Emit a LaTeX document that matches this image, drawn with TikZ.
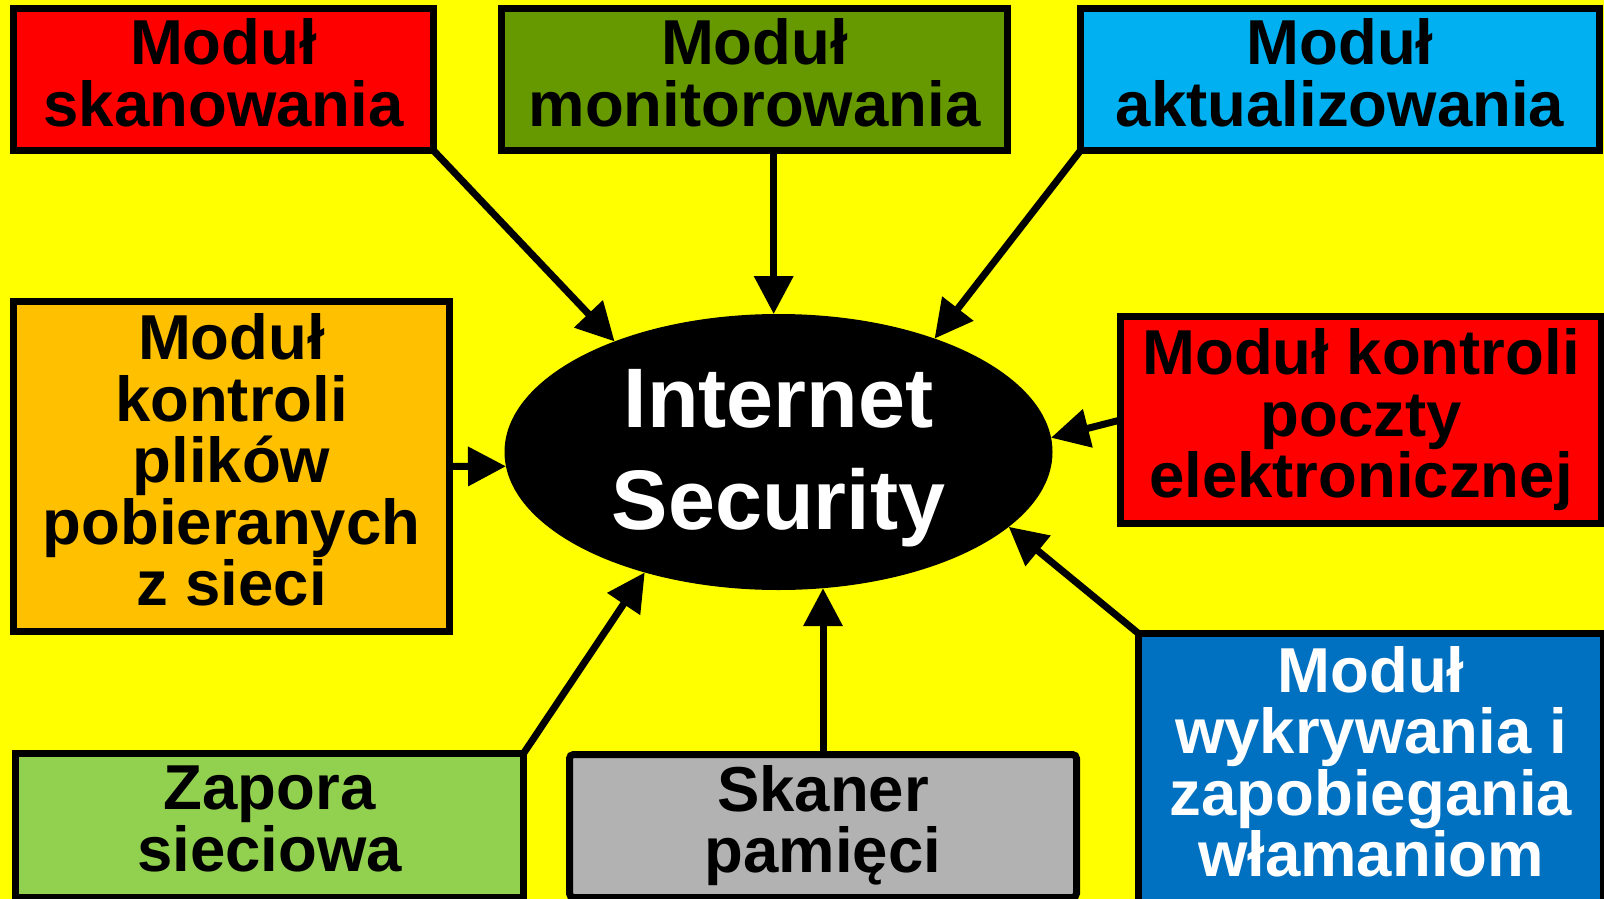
\documentclass[tikz,border=0pt]{standalone}
\usepackage{fontspec}
\setmainfont{Liberation Sans}
\usetikzlibrary{arrows.meta,shapes.geometric}

\definecolor{bgyellow}{HTML}{FFFF00}
\definecolor{cred}{HTML}{FF0000}
\definecolor{cgreen}{HTML}{669900}
\definecolor{ccyan}{HTML}{00B0F0}
\definecolor{corange}{HTML}{FFC000}
\definecolor{cblue}{HTML}{0070C0}
\definecolor{clightgreen}{HTML}{92D050}
\definecolor{cgrey}{HTML}{B2B2B2}

% fixed depth for the last line of each box label
\newcommand{\lastdp}{\rule[-14pt]{0pt}{14pt}}

\begin{document}
\begin{tikzpicture}[x=1pt,y=-1pt,
  box/.style={draw=black, line width=7pt, rectangle, inner sep=0pt, outer sep=0pt,
    align=center, font=\fontsize{63.5}{61.5}\selectfont\bfseries},
  hub/.style={ellipse, fill=black, inner sep=0pt, outer sep=0pt, text=white,
    align=center, font=\fontsize{84.5}{102}\selectfont\bfseries},
  arr/.style={draw=black, line width=7pt, -{Triangle[length=38pt,width=38pt]}},
]
\useasboundingbox (0,0) rectangle (1604,899);
\clip (0,0) rectangle (1604,899);
\fill[bgyellow] (0,0) rectangle (1604,899);

% modules
\node[box, fill=cred, minimum width=420pt, minimum height=142pt] (skan) at (223.5,79.5)
  {Moduł\\skanowania\lastdp};
\node[box, fill=cgreen, minimum width=506pt, minimum height=142pt] (mon) at (754.5,79.5)
  {Moduł\\monitorowania\lastdp};
\node[box, fill=ccyan, minimum width=519pt, minimum height=142pt] (akt) at (1340,79.5)
  {Moduł\\aktualizowania\lastdp};
\node[box, fill=corange, minimum width=436pt, minimum height=330pt] (ora) at (231.5,466.5)
  {Moduł\\kontroli\\plików\\pobieranych\\z sieci\lastdp};
\node[box, fill=cred, minimum width=481pt, minimum height=207pt] (poc) at (1361,420)
  {Moduł kontroli\\poczty\\elektronicznej\lastdp};
\node[box, fill=cblue, text=white, minimum width=465pt, minimum height=270pt] (blu) at (1371,768.5)
  {Moduł\\wykrywania i\\zapobiegania\\włamaniom\lastdp};
\node[box, fill=clightgreen, minimum width=508pt, minimum height=144pt] (zap) at (269.5,825.5)
  {Zapora\\sieciowa\lastdp};
\node[box, fill=cgrey, rounded corners=4pt, minimum width=507pt, minimum height=143pt] (ska) at (823,826)
  {Skaner\\pamięci\lastdp};

% central product
\node[hub, minimum width=548pt, minimum height=276pt] (ell) at (778.5,452)
  {\rule{0pt}{71pt}Internet\\Security};

% connectors
\draw[arr] (skan.south east) -- (ell.146.5);
\draw[arr] (ell.92 |- mon.south) -- (ell.92);
\draw[arr] (akt.south west) -- (ell.36);
\draw[arr] (ora.east) -- (ell.183.2);
\draw[arr] (poc.west) -- (ell.3.1);
\draw[arr] (blu.north west) -- (ell.-18.4);
\draw[arr] (zap.north east) -- (ell.222.4);
\draw[arr] (ska.north) -- (ska.north |- ell.288.5);
\end{tikzpicture}
\end{document}
